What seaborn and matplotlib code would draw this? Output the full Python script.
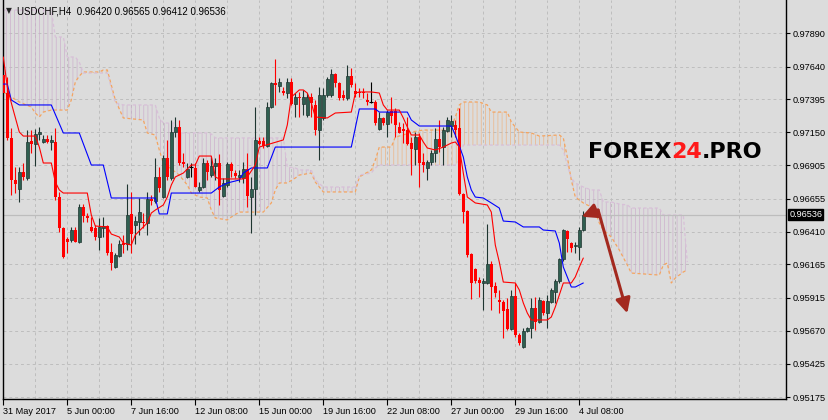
import numpy as np
import pandas as pd
import seaborn as sns
import matplotlib.pyplot as plt
from matplotlib.transforms import blended_transform_factory

# USDCHF H4, bar 0 = 31 May 2017 (one bar every 4 hours)
opens = [0.97578, 0.97443, 0.97108, 0.96794, 0.96727, 0.96854, 0.96809, 0.97085, 0.97063, 0.97137,
         0.97078, 0.97100, 0.97078, 0.97078, 0.96667, 0.96436, 0.96354, 0.96347, 0.96421, 0.96332,
         0.96593, 0.96526, 0.96444, 0.96436, 0.96369, 0.96436, 0.96451, 0.96257, 0.96145, 0.96227,
         0.96324, 0.96317, 0.96541, 0.96459, 0.96481, 0.96481, 0.96474, 0.96652, 0.96637, 0.96817,
         0.96667, 0.96958, 0.96809, 0.97152, 0.97190, 0.96929, 0.96817, 0.96891, 0.96884, 0.96720,
         0.96742, 0.96921, 0.96831, 0.96899, 0.96921, 0.96675, 0.96757, 0.96914, 0.96846, 0.96817,
         0.96809, 0.96876, 0.96667, 0.96727, 0.97085, 0.97085, 0.97048, 0.97339, 0.97518, 0.97495,
         0.97458, 0.97443, 0.97525, 0.97361, 0.97413, 0.97361, 0.97279, 0.97413, 0.97354, 0.97167,
         0.97257, 0.97428, 0.97428, 0.97585, 0.97518, 0.97428, 0.97406, 0.97570, 0.97458, 0.97451,
         0.97451, 0.97391, 0.97376, 0.97376, 0.97175, 0.97257, 0.97212, 0.97309, 0.97309, 0.97190,
         0.97175, 0.97167, 0.97070, 0.97025, 0.97115, 0.96929, 0.96884, 0.96929, 0.96996, 0.97100,
         0.97040, 0.97160, 0.97197, 0.97205, 0.97182, 0.96690, 0.96563, 0.96242, 0.96130, 0.96048,
         0.96026, 0.96026, 0.96168, 0.96003, 0.95899, 0.95884, 0.95832, 0.95683, 0.95929, 0.95638,
         0.95548, 0.95668, 0.95690, 0.95839, 0.95735, 0.95891, 0.95802, 0.95884, 0.95959, 0.96041,
         0.96205, 0.96414, 0.96324, 0.96302, 0.96294, 0.96420]
highs = [0.97630, 0.97563, 0.97182, 0.96891, 0.96891, 0.96921, 0.97167, 0.97167, 0.97175, 0.97190,
         0.97130, 0.97130, 0.97130, 0.97182, 0.96705, 0.96444, 0.96369, 0.96444, 0.96444, 0.96615,
         0.96615, 0.96548, 0.96518, 0.96459, 0.96511, 0.96518, 0.96459, 0.96324, 0.96250, 0.96347,
         0.96384, 0.96764, 0.96705, 0.96526, 0.96660, 0.96548, 0.96705, 0.96682, 0.96958, 0.96891,
         0.96981, 0.97093, 0.97242, 0.97264, 0.97242, 0.96996, 0.96921, 0.96921, 0.96921, 0.96779,
         0.96958, 0.96943, 0.96966, 0.96958, 0.96988, 0.96809, 0.96929, 0.96929, 0.96869, 0.96869,
         0.96929, 0.96996, 0.96817, 0.97339, 0.97115, 0.97115, 0.97376, 0.97525, 0.97697, 0.97555,
         0.97488, 0.97555, 0.97555, 0.97443, 0.97451, 0.97466, 0.97443, 0.97443, 0.97391, 0.97488,
         0.97481, 0.97563, 0.97622, 0.97592, 0.97525, 0.97466, 0.97652, 0.97630, 0.97518, 0.97481,
         0.97481, 0.97443, 0.97525, 0.97391, 0.97301, 0.97264, 0.97316, 0.97413, 0.97331, 0.97227,
         0.97219, 0.97264, 0.97115, 0.97152, 0.97145, 0.96996, 0.96943, 0.97018, 0.97182, 0.97242,
         0.97190, 0.97264, 0.97279, 0.97242, 0.97331, 0.96697, 0.96570, 0.96250, 0.96138, 0.96071,
         0.96063, 0.96466, 0.96190, 0.96033, 0.95974, 0.95899, 0.95914, 0.95974, 0.96026, 0.95653,
         0.95690, 0.95698, 0.95914, 0.95921, 0.95921, 0.95899, 0.95936, 0.95989, 0.96056, 0.96212,
         0.96429, 0.96421, 0.96332, 0.96332, 0.96444, 0.96565]
lows = [0.97421, 0.97093, 0.96682, 0.96697, 0.96630, 0.96794, 0.96794, 0.96996, 0.96899, 0.97093,
        0.97070, 0.97070, 0.97018, 0.96645, 0.96406, 0.96212, 0.96250, 0.96332, 0.96332, 0.96324,
        0.96481, 0.96481, 0.96406, 0.96347, 0.96272, 0.96369, 0.96235, 0.96123, 0.96138, 0.96220,
        0.96250, 0.96272, 0.96250, 0.96317, 0.96384, 0.96436, 0.96384, 0.96608, 0.96623, 0.96705,
        0.96660, 0.96794, 0.96794, 0.97115, 0.96906, 0.96891, 0.96809, 0.96817, 0.96742, 0.96705,
        0.96734, 0.96794, 0.96817, 0.96794, 0.96608, 0.96667, 0.96742, 0.96817, 0.96809, 0.96779,
        0.96772, 0.96593, 0.96399, 0.96533, 0.97055, 0.97033, 0.97040, 0.97331, 0.97354, 0.97451,
        0.97428, 0.97406, 0.97354, 0.97264, 0.97264, 0.97279, 0.97264, 0.97264, 0.97130, 0.96943,
        0.97242, 0.97413, 0.97413, 0.97488, 0.97391, 0.97391, 0.97391, 0.97488, 0.97413, 0.97413,
        0.97406, 0.97354, 0.97369, 0.97205, 0.97167, 0.97205, 0.97115, 0.97219, 0.97115, 0.97145,
        0.97070, 0.97055, 0.96831, 0.96906, 0.96742, 0.96854, 0.96794, 0.96906, 0.96929, 0.97003,
        0.96906, 0.97152, 0.97115, 0.97115, 0.96682, 0.96474, 0.96220, 0.95906, 0.96026, 0.95921,
        0.95824, 0.96018, 0.95824, 0.95921, 0.95802, 0.95615, 0.95675, 0.95675, 0.95623, 0.95563,
        0.95541, 0.95660, 0.95615, 0.95675, 0.95727, 0.95787, 0.95690, 0.95877, 0.95877, 0.96026,
        0.96190, 0.96257, 0.96257, 0.96250, 0.96197, 0.96412]
closes = [0.97443, 0.97108, 0.96794, 0.96764, 0.96854, 0.96817, 0.97078, 0.97063, 0.97137, 0.97152,
          0.97100, 0.97078, 0.97093, 0.96667, 0.96436, 0.96220, 0.96332, 0.96421, 0.96332, 0.96593,
          0.96526, 0.96511, 0.96414, 0.96369, 0.96444, 0.96451, 0.96250, 0.96175, 0.96235, 0.96317,
          0.96309, 0.96533, 0.96391, 0.96488, 0.96555, 0.96474, 0.96652, 0.96637, 0.96817, 0.96734,
          0.96958, 0.96817, 0.97152, 0.97190, 0.96921, 0.96914, 0.96876, 0.96891, 0.96742, 0.96742,
          0.96921, 0.96854, 0.96899, 0.96921, 0.96720, 0.96772, 0.96914, 0.96861, 0.96824, 0.96831,
          0.96876, 0.96675, 0.96727, 0.97093, 0.97063, 0.97048, 0.97339, 0.97518, 0.97503, 0.97525,
          0.97443, 0.97525, 0.97361, 0.97413, 0.97406, 0.97413, 0.97413, 0.97369, 0.97167, 0.97428,
          0.97428, 0.97548, 0.97585, 0.97518, 0.97406, 0.97406, 0.97570, 0.97503, 0.97436, 0.97443,
          0.97443, 0.97376, 0.97376, 0.97219, 0.97257, 0.97219, 0.97301, 0.97272, 0.97205, 0.97145,
          0.97160, 0.97063, 0.97025, 0.97115, 0.96921, 0.96906, 0.96929, 0.96996, 0.97100, 0.97040,
          0.97167, 0.97242, 0.97234, 0.97167, 0.96690, 0.96555, 0.96235, 0.96026, 0.96041, 0.96026,
          0.96041, 0.96168, 0.95996, 0.95951, 0.95884, 0.95817, 0.95683, 0.95929, 0.95638, 0.95578,
          0.95668, 0.95690, 0.95839, 0.95735, 0.95899, 0.95802, 0.95891, 0.95974, 0.96041, 0.96205,
          0.96421, 0.96354, 0.96287, 0.96309, 0.96421, 0.96536]

# Ichimoku: Tenkan-sen (red) and Kijun-sen (blue), read at their turning bars
tenkan_bar = [0, 1, 2, 4, 5, 8, 9, 10, 12, 13, 14, 15, 21, 22, 23, 26, 27, 29, 30, 32, 33, 36, 37, 38,
              40, 41, 42, 43, 45, 47, 48, 49, 52, 53, 54, 60, 61, 63, 64, 70, 71, 72, 74, 75, 76, 77,
              78, 81, 83, 87, 88, 89, 92, 94, 95, 96, 99, 100, 101, 102, 104, 105, 106, 108, 110, 112,
              113, 114, 115, 116, 118, 121, 122, 123, 124, 125, 128, 129, 130, 131, 132, 136, 137,
              138, 140, 142, 143, 144, 145]
tenkan_val = [0.97712, 0.97488, 0.97369, 0.97152, 0.97122, 0.97122, 0.97040, 0.96921, 0.96921, 0.96779,
              0.96720, 0.96697, 0.96697, 0.96533, 0.96451, 0.96444, 0.96391, 0.96369, 0.96324, 0.96309,
              0.96384, 0.96474, 0.96548, 0.96570, 0.96608, 0.96667, 0.96757, 0.96817, 0.96846, 0.96906,
              0.96906, 0.96973, 0.96973, 0.96817, 0.96802, 0.96802, 0.96817, 0.96906, 0.97040, 0.97093,
              0.97205, 0.97413, 0.97466, 0.97466, 0.97443, 0.97369, 0.97264, 0.97257, 0.97294, 0.97301,
              0.97443, 0.97451, 0.97451, 0.97443, 0.97354, 0.97316, 0.97316, 0.97257, 0.97190, 0.97130,
              0.97130, 0.97078, 0.97033, 0.97018, 0.97040, 0.97070, 0.97078, 0.97040, 0.96846, 0.96667,
              0.96623, 0.96608, 0.96555, 0.96309, 0.96182, 0.96033, 0.96026, 0.95974, 0.95877, 0.95802,
              0.95750, 0.95750, 0.95772, 0.95847, 0.96026, 0.96026, 0.96071, 0.96145, 0.96212]
kijun_bar = [0, 1, 2, 4, 12, 15, 19, 22, 25, 27, 38, 39, 41, 42, 52, 54, 56, 59, 60, 62, 66, 68, 87,
             89, 93, 94, 101, 102, 104, 112, 113, 115, 116, 117, 118, 120, 122, 124, 125, 128, 130,
             134, 135, 138, 139, 140, 142, 143, 145]
kijun_val = [0.97510, 0.97510, 0.97391, 0.97354, 0.97354, 0.97145, 0.97145, 0.96906, 0.96906, 0.96660,
             0.96660, 0.96541, 0.96541, 0.96697, 0.96697, 0.96742, 0.96772, 0.96794, 0.96846, 0.96884,
             0.96884, 0.97040, 0.97040, 0.97324, 0.97324, 0.97301, 0.97301, 0.97242, 0.97197, 0.97197,
             0.97130, 0.96966, 0.96817, 0.96720, 0.96667, 0.96660, 0.96623, 0.96585, 0.96488, 0.96481,
             0.96444, 0.96444, 0.96421, 0.96414, 0.96324, 0.96145, 0.95996, 0.95996, 0.96026]

# Senkou span A / B (cloud, shifted 26 bars ahead)
cloud_bar = [0, 4, 7, 8, 9, 10, 12, 13, 15, 16, 17, 18, 19, 20, 24, 25, 26, 27, 28, 30, 35, 36, 38,
             39, 40, 43, 44, 46, 47, 49, 51, 52, 53, 56, 57, 59, 65, 67, 68, 69, 70, 71, 73, 74, 77,
             78, 80, 88, 89, 92, 93, 94, 97, 98, 100, 102, 105, 111, 112, 113, 114, 115, 119, 121,
             122, 126, 127, 129, 132, 134, 139, 140, 141, 142, 143, 145, 147, 148, 149, 150, 152,
             154, 156, 157, 164, 165, 166, 167, 168, 170, 171]
span_a = [0.97451, 0.97376, 0.97339, 0.97294, 0.97264, 0.97301, 0.97316, 0.97316, 0.97316, 0.97316,
          0.97391, 0.97525, 0.97570, 0.97600, 0.97600, 0.97615, 0.97615, 0.97503, 0.97391, 0.97257,
          0.97242, 0.97145, 0.97130, 0.97018, 0.96921, 0.96854, 0.96831, 0.96757, 0.96697, 0.96667,
          0.96660, 0.96570, 0.96511, 0.96496, 0.96518, 0.96555, 0.96555, 0.96623, 0.96720, 0.96772,
          0.96772, 0.96772, 0.96809, 0.96831, 0.96846, 0.96779, 0.96705, 0.96705, 0.96817, 0.96869,
          0.96943, 0.97040, 0.97040, 0.97115, 0.97130, 0.97152, 0.97167, 0.97167, 0.97190, 0.97264,
          0.97354, 0.97376, 0.97376, 0.97354, 0.97301, 0.97301, 0.97227, 0.97152, 0.97145, 0.97122,
          0.97130, 0.97108, 0.96966, 0.96794, 0.96667, 0.96623, 0.96593, 0.96555, 0.96474, 0.96421,
          0.96369, 0.96272, 0.96160, 0.96100, 0.96085, 0.96160, 0.96175, 0.96026, 0.96063, 0.96108,
          0.96123]
span_b = [0.98062, 0.98062, 0.98062, 0.98062, 0.98062, 0.98062, 0.98062, 0.97861, 0.97861, 0.97712,
          0.97712, 0.97712, 0.97674, 0.97592, 0.97592, 0.97592, 0.97592, 0.97481, 0.97369, 0.97354,
          0.97354, 0.97354, 0.97354, 0.97257, 0.97219, 0.97219, 0.97145, 0.97145, 0.97145, 0.97145,
          0.97145, 0.97137, 0.97108, 0.97108, 0.97108, 0.97108, 0.97108, 0.97108, 0.97108, 0.97108,
          0.97108, 0.96891, 0.96884, 0.96869, 0.96869, 0.96794, 0.96742, 0.96742, 0.96831, 0.96846,
          0.96884, 0.96906, 0.96906, 0.96906, 0.96906, 0.96906, 0.96906, 0.96906, 0.96906, 0.96906,
          0.96943, 0.97055, 0.97055, 0.97055, 0.97055, 0.97055, 0.97055, 0.97055, 0.97055, 0.97055,
          0.97055, 0.97018, 0.96906, 0.96809, 0.96772, 0.96742, 0.96720, 0.96720, 0.96720, 0.96630,
          0.96630, 0.96615, 0.96608, 0.96585, 0.96585, 0.96533, 0.96533, 0.96533, 0.96533, 0.96533,
          0.96182]

price_ticks = [0.97890, 0.97640, 0.97395, 0.97150, 0.96905, 0.96655, 0.96410, 0.96165,
               0.95915, 0.95670, 0.95425, 0.95175]
date_bars = [0, 16, 32, 48, 64, 80, 96, 112, 128, 144]
date_labels = ['31 May 2017', '5 Jun 00:00', '7 Jun 16:00', '12 Jun 08:00', '15 Jun 00:00',
               '19 Jun 16:00', '22 Jun 08:00', '27 Jun 00:00', '29 Jun 16:00', '4 Jul 08:00']
last_price = 0.96536

BG = '#DCDCDC'
GRID = '#BEBEBE'
BULL = '#2F5F50'
BULL_EDGE = '#1E3530'
BEAR = '#FF0000'
SANDY = '#F4A460'
THISTLE = '#D8BFD8'
ARROW = '#A3291F'

sns.set_style('white', rc={'axes.facecolor': BG, 'figure.facecolor': BG})
plt.rcParams['font.family'] = ['Liberation Sans', 'DejaVu Sans']
plt.rcParams['hatch.linewidth'] = 0.55

fig = plt.figure(figsize=(8.29, 4.2), dpi=100)
ax = fig.add_axes([3 / 829, 21 / 420, 783 / 829, 399 / 420])
ax.set_xlim(-0.075, 195.675)
ax.set_ylim(0.951605, 0.98137)

# cloud (dotted histogram in the terminal, light hatching here)
cb = np.array(cloud_bar)
sa = np.array(span_a)
sb = np.array(span_b)
ax.fill_between(cb, sa, sb, where=sa >= sb, interpolate=True, facecolor='none',
                edgecolor=(0.957, 0.643, 0.376, 0.65), hatch='||||', linewidth=0, zorder=1)
ax.fill_between(cb, sa, sb, where=sa <= sb, interpolate=True, facecolor='none',
                edgecolor=(0.80, 0.68, 0.80, 0.85), hatch='||||', linewidth=0, zorder=1)
sns.lineplot(x=cloud_bar, y=span_a, ax=ax, color=SANDY, linewidth=0.9,
             linestyle=(0, (2.5, 2)), zorder=1.1)
sns.lineplot(x=cloud_bar, y=span_b, ax=ax, color=THISTLE, linewidth=0.9,
             linestyle=(0, (2.5, 2)), zorder=1.1)

ax.axhline(last_price, color='#BDBDBD', linewidth=0.9, zorder=1.2)

# candles
df = pd.DataFrame({'open': opens, 'high': highs, 'low': lows, 'close': closes})
df['bar'] = np.arange(len(df))
up = df.close > df.open
dn = df.close < df.open
fl = ~(up | dn)
ax.vlines(df.bar[up], df.low[up], df.high[up], color=BULL_EDGE, linewidth=0.8, zorder=2)
ax.vlines(df.bar[dn], df.low[dn], df.high[dn], color=BEAR, linewidth=0.8, zorder=2)
ax.vlines(df.bar[fl], df.low[fl], df.high[fl], color='black', linewidth=0.8, zorder=2)
body = (df.close - df.open).abs().clip(lower=0.00007)
ax.bar(df.bar[up], body[up], bottom=df.open[up], width=0.75, color=BULL,
       edgecolor=BULL_EDGE, linewidth=0.5, zorder=3)
ax.bar(df.bar[dn], body[dn], bottom=df.close[dn], width=0.75, color=BEAR,
       linewidth=0, zorder=3)
ax.hlines(df.close[fl], df.bar[fl] - 0.45, df.bar[fl] + 0.45, color='black', linewidth=0.8, zorder=3)

# tenkan / kijun
sns.lineplot(x=kijun_bar, y=kijun_val, ax=ax, color='#0000FF', linewidth=0.8, zorder=4)
sns.lineplot(x=tenkan_bar, y=tenkan_val, ax=ax, color='#FF0000', linewidth=0.8, zorder=4)

# forecast arrows
start = (148.7, 0.96570)
ax.annotate('', xy=(144.6, 0.96520), xytext=start,
            arrowprops=dict(arrowstyle='-|>', color=ARROW, lw=2.2, mutation_scale=22,
                            shrinkA=0, shrinkB=0), zorder=5)
ax.annotate('', xy=(156.0, 0.95800), xytext=start,
            arrowprops=dict(arrowstyle='-|>', color=ARROW, lw=2.2, mutation_scale=22,
                            shrinkA=0, shrinkB=0), zorder=5)

# axes, ticks, grid
ax.yaxis.tick_right()
ax.set_yticks(price_ticks)
ax.set_yticklabels([f'{v:.5f}' for v in price_ticks])
ax.set_xticks(date_bars)
ax.set_xticklabels(date_labels, ha='left')
ax.set_xticks(np.arange(8, 196, 16), minor=True)
ax.tick_params(axis='y', which='major', direction='out', length=3, width=0.8, pad=2,
               labelsize=6.6, colors='black', right=True, left=False)
ax.tick_params(axis='x', which='major', direction='out', length=4, width=0.8, pad=2,
               labelsize=6.6, colors='black', bottom=True)
ax.tick_params(axis='x', which='minor', length=0)
ax.grid(True, which='major', axis='y', color=GRID, linestyle=(0, (3, 3)), linewidth=0.7)
ax.grid(True, which='both', axis='x', color=GRID, linestyle=(0, (3, 3)), linewidth=0.7)
ax.set_axisbelow(True)
ax.set_xlabel('')
ax.set_ylabel('')
ax.spines['top'].set_visible(False)
for s in ['left', 'right', 'bottom']:
    ax.spines[s].set_color('black')
    ax.spines[s].set_linewidth(1.0)

tr = blended_transform_factory(ax.transAxes, ax.transData)
ax.text(1.004, last_price, f'{last_price:.5f}', transform=tr, color='white', fontsize=6.6,
        va='center', ha='left', bbox=dict(boxstyle='square,pad=0.12', fc='black', ec='black'))

# header
fig.text(6 / 829, 1 - 11 / 420, '\u25bc', fontsize=5.5, family='DejaVu Sans', va='center')
fig.text(17 / 829, 1 - 11 / 420, 'USDCHF,H4  0.96420 0.96565 0.96412 0.96536',
         fontsize=7, va='center', color='black')

# watermark
fig.canvas.draw()
rend = fig.canvas.get_renderer()
wm = dict(fontsize=16, fontweight='bold', family=['DejaVu Sans'], va='baseline')
x0 = 588
ybase = 1 - 158 / 420
for part, col in [('FOREX', 'black'), ('24', '#FF1A1A'), ('.PRO', 'black')]:
    t = fig.text(x0 / 829, ybase, part, color=col, **wm)
    x0 = t.get_window_extent(rend).x1

fig.savefig('out.png', dpi=100, facecolor=BG)
